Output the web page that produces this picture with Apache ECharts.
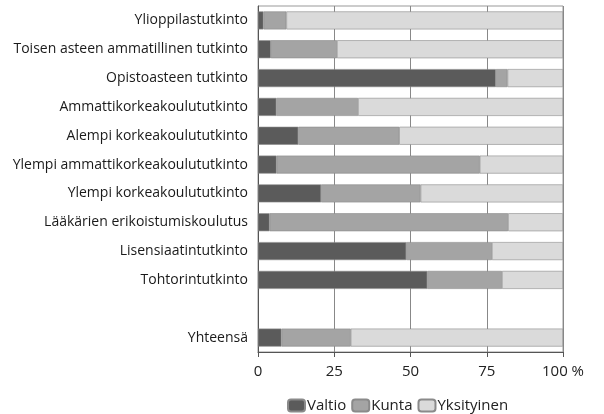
<!DOCTYPE html>
<html>
<head>
<meta charset="utf-8">
<script src="https://cdn.jsdelivr.net/npm/echarts@6/dist/echarts.min.js"></script>
<style>
  html, body { margin: 0; padding: 0; background: #fff; }
  #chart { width: 604px; height: 414px; }
</style>
</head>
<body>
<div id="chart"></div>
<script>
// categories top to bottom, '' is the empty row before the total
var categories = [
    'Ylioppilastutkinto',
    'Toisen asteen ammatillinen tutkinto',
    'Opistoasteen tutkinto',
    'Ammattikorkeakoulututkinto',
    'Alempi korkeakoulututkinto',
    'Ylempi ammattikorkeakoulututkinto',
    'Ylempi korkeakoulututkinto',
    'Lääkärien erikoistumiskoulutus',
    'Lisensiaatintutkinto',
    'Tohtorintutkinto',
    '',
    'Yhteensä'
]
var valtio = [1.8, 4.2, 78, 6, 13.2, 6.1, 20.7, 3.8, 48.6, 55.5, null, 7.7]
var kunta = [7.5, 21.7, 3.8, 26.8, 33.1, 66.6, 32.6, 78.2, 28.1, 24.5, null, 22.7]
var yksityinen = [90.7, 74.1, 18.2, 67.2, 53.7, 27.3, 46.7, 18, 23.3, 20, null, 69.6]
var xTicks = [0, 25, 50, 75, 100]

var font = 'Open Sans'
var chart = echarts.init(document.getElementById('chart'))

function bar(name, data, color) {
    return {
        name: name,
        type: 'bar',
        stack: 'total',
        data: data,
        barWidth: 18,
        itemStyle: {
            color: color,
            borderColor: '#8a8a8a',
            borderWidth: 0.6
        }
    }
}

chart.setOption({
    animation: false,
    textStyle: { fontFamily: font },
    grid: {
        left: 258,
        right: 41,
        top: 6,
        bottom: 62,
        show: true,
        borderColor: '#999',
        borderWidth: 1
    },
    legend: {
        top: 393,
        left: 282,
        itemWidth: 17,
        itemHeight: 12,
        itemGap: 5,
        textStyle: { fontFamily: font, fontSize: 15, color: '#222', padding: [0, 0, 0, -3] },
        data: ['Valtio', 'Kunta', 'Yksityinen']
    },
    xAxis: {
        type: 'value',
        min: 0,
        max: 100,
        interval: 25,
        axisLine: { show: true, lineStyle: { color: '#555' } },
        axisTick: { show: true, length: 5, lineStyle: { color: '#555' } },
        splitLine: { show: true, lineStyle: { color: '#888', width: 1 } },
        axisLabel: {
            fontFamily: font,
            fontSize: 15,
            color: '#222',
            margin: 12,
            formatter: function (v) {
                return xTicks.indexOf(v) === xTicks.length - 1 ? v + ' %' : String(v)
            }
        }
    },
    yAxis: {
        type: 'category',
        inverse: true,
        data: categories,
        axisLine: { show: true, lineStyle: { color: '#555' } },
        axisTick: { show: false },
        axisLabel: {
            fontFamily: font,
            fontSize: 14,
            color: '#1a1a1a',
            margin: 10
        }
    },
    series: [
        bar('Valtio', valtio, '#5b5b5b'),
        bar('Kunta', kunta, '#a4a4a4'),
        bar('Yksityinen', yksityinen, '#dadada')
    ]
})
</script>
</body>
</html>
